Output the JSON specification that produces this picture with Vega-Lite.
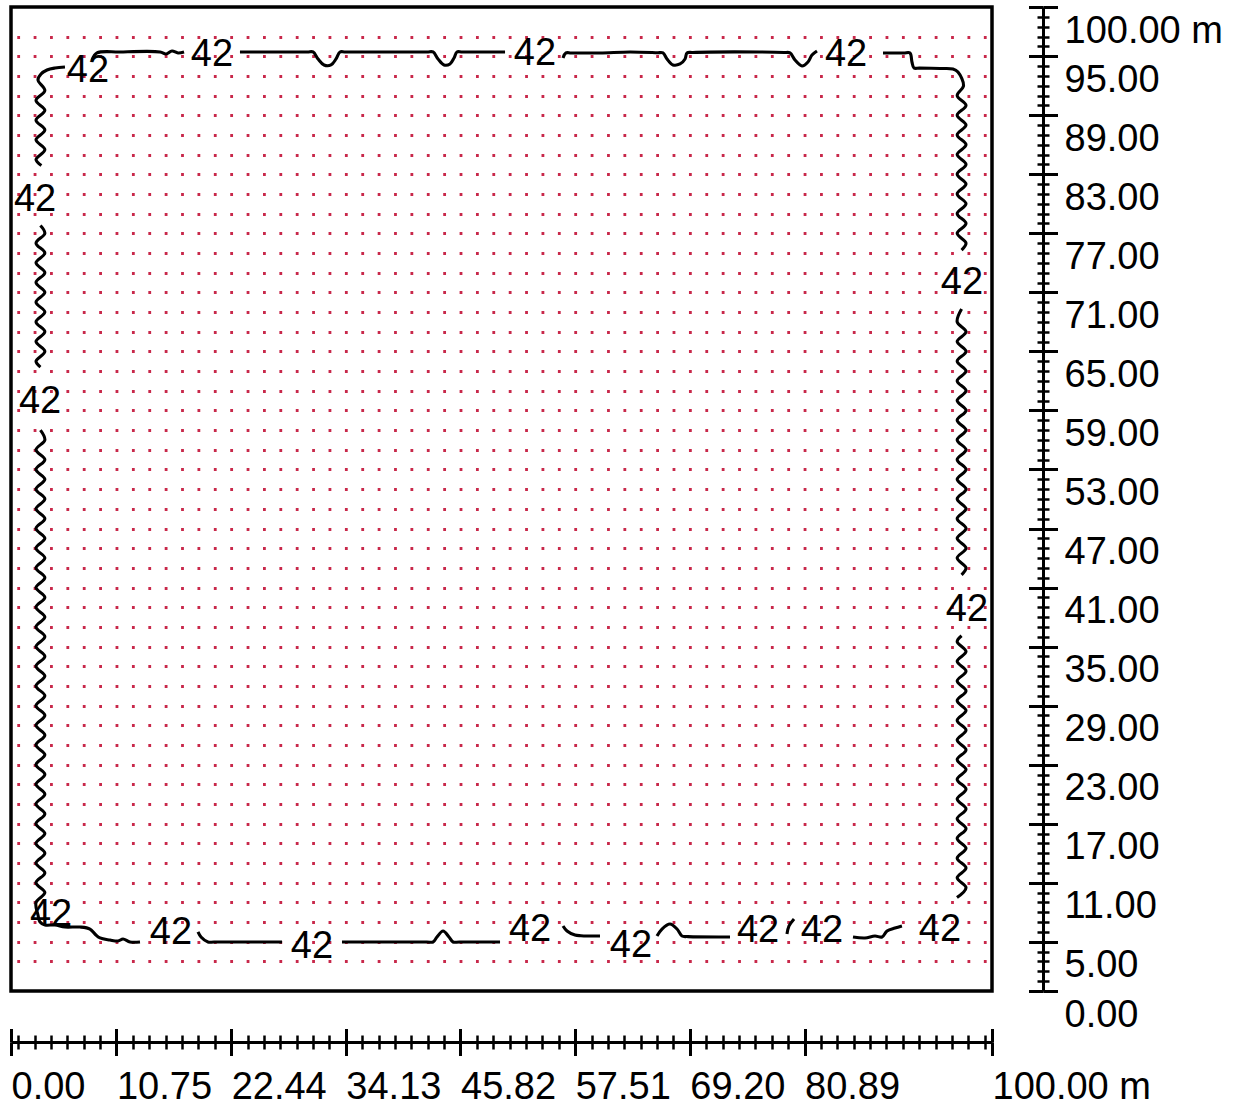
{
  "$schema": "https://vega.github.io/schema/vega-lite/v6.json",
  "width": 981,
  "height": 984,
  "autosize": {"type": "none"},
  "padding": {"left": 11, "top": 7, "right": 254, "bottom": 115},
  "background": "white",
  "config": {
    "view": {"stroke": "black", "strokeWidth": 3.5},
    "font": "Liberation Sans",
    "axis": {"grid": false, "title": null, "domainColor": "black", "tickColor": "black", "labelColor": "black", "labelFont": "Liberation Sans"}
  },
  "datasets": {
    "contour": [
      {"s": "L1", "i": 1, "x": 5.50, "y": 93.90}, {"s": "L1", "i": 2, "x": 4.49, "y": 93.80}, {"s": "L1", "i": 3, "x": 3.67, "y": 93.60}, {"s": "L1", "i": 4, "x": 3.06, "y": 93.19}, {"s": "L1", "i": 5, "x": 2.75, "y": 92.58},
      {"s": "L1", "i": 6, "x": 3.45, "y": 91.5}, {"s": "L1", "i": 7, "x": 2.55, "y": 90.5}, {"s": "L1", "i": 8, "x": 3.45, "y": 89.5}, {"s": "L1", "i": 9, "x": 2.55, "y": 88.5}, {"s": "L1", "i": 10, "x": 3.45, "y": 87.5}, {"s": "L1", "i": 11, "x": 2.55, "y": 86.5}, {"s": "L1", "i": 12, "x": 3.45, "y": 85.5}, {"s": "L1", "i": 13, "x": 2.55, "y": 84.5}, {"s": "L1", "i": 14, "x": 3.1, "y": 83.9},
      {"s": "L2", "i": 1, "x": 3.0, "y": 77.8}, {"s": "L2", "i": 2, "x": 3.45, "y": 77.0}, {"s": "L2", "i": 3, "x": 2.55, "y": 76.0}, {"s": "L2", "i": 4, "x": 3.45, "y": 75.0}, {"s": "L2", "i": 5, "x": 2.55, "y": 74.0}, {"s": "L2", "i": 6, "x": 3.45, "y": 73.0}, {"s": "L2", "i": 7, "x": 2.55, "y": 72.0}, {"s": "L2", "i": 8, "x": 3.45, "y": 71.0}, {"s": "L2", "i": 9, "x": 2.55, "y": 70.0}, {"s": "L2", "i": 10, "x": 3.45, "y": 69.0}, {"s": "L2", "i": 11, "x": 2.55, "y": 68.0}, {"s": "L2", "i": 12, "x": 3.45, "y": 67.0}, {"s": "L2", "i": 13, "x": 2.55, "y": 66.0}, {"s": "L2", "i": 14, "x": 3.45, "y": 65.0}, {"s": "L2", "i": 15, "x": 2.55, "y": 64.0}, {"s": "L2", "i": 16, "x": 3.0, "y": 63.4},
      {"s": "L3", "i": 1, "x": 3.0, "y": 57.0}, {"s": "L3", "i": 2, "x": 3.45, "y": 56}, {"s": "L3", "i": 3, "x": 2.55, "y": 55}, {"s": "L3", "i": 4, "x": 3.45, "y": 54}, {"s": "L3", "i": 5, "x": 2.55, "y": 53}, {"s": "L3", "i": 6, "x": 3.45, "y": 52}, {"s": "L3", "i": 7, "x": 2.55, "y": 51}, {"s": "L3", "i": 8, "x": 3.45, "y": 50}, {"s": "L3", "i": 9, "x": 2.55, "y": 49}, {"s": "L3", "i": 10, "x": 3.45, "y": 48}, {"s": "L3", "i": 11, "x": 2.55, "y": 47}, {"s": "L3", "i": 12, "x": 3.45, "y": 46}, {"s": "L3", "i": 13, "x": 2.55, "y": 45}, {"s": "L3", "i": 14, "x": 3.45, "y": 44}, {"s": "L3", "i": 15, "x": 2.55, "y": 43}, {"s": "L3", "i": 16, "x": 3.45, "y": 42}, {"s": "L3", "i": 17, "x": 2.55, "y": 41}, {"s": "L3", "i": 18, "x": 3.45, "y": 40}, {"s": "L3", "i": 19, "x": 2.55, "y": 39}, {"s": "L3", "i": 20, "x": 3.45, "y": 38}, {"s": "L3", "i": 21, "x": 2.55, "y": 37}, {"s": "L3", "i": 22, "x": 3.45, "y": 36}, {"s": "L3", "i": 23, "x": 2.55, "y": 35}, {"s": "L3", "i": 24, "x": 3.45, "y": 34}, {"s": "L3", "i": 25, "x": 2.55, "y": 33}, {"s": "L3", "i": 26, "x": 3.45, "y": 32}, {"s": "L3", "i": 27, "x": 2.55, "y": 31}, {"s": "L3", "i": 28, "x": 3.45, "y": 30}, {"s": "L3", "i": 29, "x": 2.55, "y": 29}, {"s": "L3", "i": 30, "x": 3.45, "y": 28}, {"s": "L3", "i": 31, "x": 2.55, "y": 27}, {"s": "L3", "i": 32, "x": 3.45, "y": 26}, {"s": "L3", "i": 33, "x": 2.55, "y": 25}, {"s": "L3", "i": 34, "x": 3.45, "y": 24}, {"s": "L3", "i": 35, "x": 2.55, "y": 23}, {"s": "L3", "i": 36, "x": 3.45, "y": 22}, {"s": "L3", "i": 37, "x": 2.55, "y": 21}, {"s": "L3", "i": 38, "x": 3.45, "y": 20}, {"s": "L3", "i": 39, "x": 2.55, "y": 19}, {"s": "L3", "i": 40, "x": 3.45, "y": 18}, {"s": "L3", "i": 41, "x": 2.55, "y": 17}, {"s": "L3", "i": 42, "x": 3.45, "y": 16}, {"s": "L3", "i": 43, "x": 2.55, "y": 15}, {"s": "L3", "i": 44, "x": 3.45, "y": 14}, {"s": "L3", "i": 45, "x": 2.55, "y": 13}, {"s": "L3", "i": 46, "x": 3.45, "y": 12}, {"s": "L3", "i": 47, "x": 2.55, "y": 11}, {"s": "L3", "i": 48, "x": 3.45, "y": 10}, {"s": "L3", "i": 49, "x": 2.55, "y": 9},
      {"s": "L3", "i": 50, "x": 2.75, "y": 7.72}, {"s": "L3", "i": 51, "x": 2.96, "y": 7.01}, {"s": "L3", "i": 52, "x": 3.47, "y": 6.71}, {"s": "L3", "i": 53, "x": 4.49, "y": 6.71}, {"s": "L3", "i": 54, "x": 5.50, "y": 6.50}, {"s": "L3", "i": 55, "x": 7.03, "y": 6.50}, {"s": "L3", "i": 56, "x": 8.05, "y": 6.30}, {"s": "L3", "i": 57, "x": 8.56, "y": 5.79}, {"s": "L3", "i": 58, "x": 9.07, "y": 5.39}, {"s": "L3", "i": 59, "x": 10.09, "y": 5.18}, {"s": "L3", "i": 60, "x": 10.91, "y": 5.08}, {"s": "L3", "i": 61, "x": 11.42, "y": 5.28}, {"s": "L3", "i": 62, "x": 12.13, "y": 4.98}, {"s": "L3", "i": 63, "x": 13.15, "y": 4.98},
      {"s": "B2", "i": 1, "x": 19.06, "y": 6.00}, {"s": "B2", "i": 2, "x": 19.37, "y": 5.49}, {"s": "B2", "i": 3, "x": 20.08, "y": 4.98}, {"s": "B2", "i": 4, "x": 20.7, "y": 4.98}, {"s": "B2", "i": 5, "x": 27.63, "y": 4.98},
      {"s": "B3", "i": 1, "x": 33.74, "y": 4.98}, {"s": "B3", "i": 2, "x": 42.4, "y": 4.98}, {"s": "B3", "i": 3, "x": 43.02, "y": 4.98}, {"s": "B3", "i": 4, "x": 43.42, "y": 5.49}, {"s": "B3", "i": 5, "x": 44.04, "y": 6.10}, {"s": "B3", "i": 6, "x": 44.65, "y": 5.49}, {"s": "B3", "i": 7, "x": 45.06, "y": 4.98}, {"s": "B3", "i": 8, "x": 45.7, "y": 4.98}, {"s": "B3", "i": 9, "x": 49.85, "y": 4.98},
      {"s": "B4", "i": 1, "x": 56.27, "y": 6.61}, {"s": "B4", "i": 2, "x": 56.68, "y": 6.10}, {"s": "B4", "i": 3, "x": 57.49, "y": 5.69}, {"s": "B4", "i": 4, "x": 58.1, "y": 5.62}, {"s": "B4", "i": 5, "x": 60.04, "y": 5.59},
      {"s": "B5", "i": 1, "x": 65.85, "y": 5.59}, {"s": "B5", "i": 2, "x": 66.36, "y": 6.30}, {"s": "B5", "i": 3, "x": 67.18, "y": 6.81}, {"s": "B5", "i": 4, "x": 67.89, "y": 6.30}, {"s": "B5", "i": 5, "x": 68.40, "y": 5.59}, {"s": "B5", "i": 6, "x": 69.0, "y": 5.53}, {"s": "B5", "i": 7, "x": 73.29, "y": 5.49},
      {"s": "B6", "i": 1, "x": 79.10, "y": 5.79}, {"s": "B6", "i": 2, "x": 79.31, "y": 6.61}, {"s": "B6", "i": 3, "x": 79.82, "y": 7.32},
      {"s": "B7", "i": 1, "x": 85.83, "y": 5.49}, {"s": "B7", "i": 2, "x": 87.05, "y": 5.39}, {"s": "B7", "i": 3, "x": 88.07, "y": 5.59}, {"s": "B7", "i": 4, "x": 88.79, "y": 5.49}, {"s": "B7", "i": 5, "x": 89.30, "y": 6.10}, {"s": "B7", "i": 6, "x": 90.11, "y": 6.40}, {"s": "B7", "i": 7, "x": 90.82, "y": 6.61},
      {"s": "R1", "i": 1, "x": 96.43, "y": 9.5}, {"s": "R1", "i": 2, "x": 97.35, "y": 10.5}, {"s": "R1", "i": 3, "x": 96.45, "y": 11.5}, {"s": "R1", "i": 4, "x": 97.35, "y": 12.5}, {"s": "R1", "i": 5, "x": 96.45, "y": 13.5}, {"s": "R1", "i": 6, "x": 97.35, "y": 14.5}, {"s": "R1", "i": 7, "x": 96.45, "y": 15.5}, {"s": "R1", "i": 8, "x": 97.35, "y": 16.5}, {"s": "R1", "i": 9, "x": 96.45, "y": 17.5}, {"s": "R1", "i": 10, "x": 97.35, "y": 18.5}, {"s": "R1", "i": 11, "x": 96.45, "y": 19.5}, {"s": "R1", "i": 12, "x": 97.35, "y": 20.5}, {"s": "R1", "i": 13, "x": 96.45, "y": 21.5}, {"s": "R1", "i": 14, "x": 97.35, "y": 22.5}, {"s": "R1", "i": 15, "x": 96.45, "y": 23.5}, {"s": "R1", "i": 16, "x": 97.35, "y": 24.5}, {"s": "R1", "i": 17, "x": 96.45, "y": 25.5}, {"s": "R1", "i": 18, "x": 97.35, "y": 26.5}, {"s": "R1", "i": 19, "x": 96.45, "y": 27.5}, {"s": "R1", "i": 20, "x": 97.35, "y": 28.5}, {"s": "R1", "i": 21, "x": 96.45, "y": 29.5}, {"s": "R1", "i": 22, "x": 97.35, "y": 30.5}, {"s": "R1", "i": 23, "x": 96.45, "y": 31.5}, {"s": "R1", "i": 24, "x": 97.35, "y": 32.5}, {"s": "R1", "i": 25, "x": 96.45, "y": 33.5}, {"s": "R1", "i": 26, "x": 97.35, "y": 34.5}, {"s": "R1", "i": 27, "x": 96.45, "y": 35.5}, {"s": "R1", "i": 28, "x": 96.9, "y": 36.1},
      {"s": "R2", "i": 1, "x": 96.9, "y": 42.3}, {"s": "R2", "i": 2, "x": 97.35, "y": 43}, {"s": "R2", "i": 3, "x": 96.45, "y": 44}, {"s": "R2", "i": 4, "x": 97.35, "y": 45}, {"s": "R2", "i": 5, "x": 96.45, "y": 46}, {"s": "R2", "i": 6, "x": 97.35, "y": 47}, {"s": "R2", "i": 7, "x": 96.45, "y": 48}, {"s": "R2", "i": 8, "x": 97.35, "y": 49}, {"s": "R2", "i": 9, "x": 96.45, "y": 50}, {"s": "R2", "i": 10, "x": 97.35, "y": 51}, {"s": "R2", "i": 11, "x": 96.45, "y": 52}, {"s": "R2", "i": 12, "x": 97.35, "y": 53}, {"s": "R2", "i": 13, "x": 96.45, "y": 54}, {"s": "R2", "i": 14, "x": 97.35, "y": 55}, {"s": "R2", "i": 15, "x": 96.45, "y": 56}, {"s": "R2", "i": 16, "x": 97.35, "y": 57}, {"s": "R2", "i": 17, "x": 96.45, "y": 58}, {"s": "R2", "i": 18, "x": 97.35, "y": 59}, {"s": "R2", "i": 19, "x": 96.45, "y": 60}, {"s": "R2", "i": 20, "x": 97.35, "y": 61}, {"s": "R2", "i": 21, "x": 96.45, "y": 62}, {"s": "R2", "i": 22, "x": 97.35, "y": 63}, {"s": "R2", "i": 23, "x": 96.45, "y": 64}, {"s": "R2", "i": 24, "x": 97.35, "y": 65}, {"s": "R2", "i": 25, "x": 96.45, "y": 66}, {"s": "R2", "i": 26, "x": 97.35, "y": 67}, {"s": "R2", "i": 27, "x": 96.45, "y": 68}, {"s": "R2", "i": 28, "x": 96.9, "y": 69.3},
      {"s": "R3", "i": 1, "x": 96.9, "y": 75.3}, {"s": "R3", "i": 2, "x": 97.35, "y": 76}, {"s": "R3", "i": 3, "x": 96.45, "y": 77}, {"s": "R3", "i": 4, "x": 97.35, "y": 78}, {"s": "R3", "i": 5, "x": 96.45, "y": 79}, {"s": "R3", "i": 6, "x": 97.35, "y": 80}, {"s": "R3", "i": 7, "x": 96.45, "y": 81}, {"s": "R3", "i": 8, "x": 97.35, "y": 82}, {"s": "R3", "i": 9, "x": 96.45, "y": 83}, {"s": "R3", "i": 10, "x": 97.35, "y": 84}, {"s": "R3", "i": 11, "x": 96.45, "y": 85}, {"s": "R3", "i": 12, "x": 97.35, "y": 86}, {"s": "R3", "i": 13, "x": 96.45, "y": 87}, {"s": "R3", "i": 14, "x": 97.35, "y": 88}, {"s": "R3", "i": 15, "x": 96.45, "y": 89}, {"s": "R3", "i": 16, "x": 97.35, "y": 90}, {"s": "R3", "i": 17, "x": 96.45, "y": 91}, {"s": "R3", "i": 18, "x": 97.1, "y": 92},
      {"s": "R3", "i": 19, "x": 96.53, "y": 93.39}, {"s": "R3", "i": 20, "x": 96.02, "y": 93.70}, {"s": "R3", "i": 21, "x": 94.70, "y": 93.75}, {"s": "R3", "i": 22, "x": 92.6, "y": 93.79}, {"s": "R3", "i": 23, "x": 92.05, "y": 93.80}, {"s": "R3", "i": 24, "x": 91.84, "y": 94.41}, {"s": "R3", "i": 25, "x": 91.64, "y": 95.33}, {"s": "R3", "i": 26, "x": 91.0, "y": 95.33}, {"s": "R3", "i": 27, "x": 88.89, "y": 95.33},
      {"s": "T0", "i": 1, "x": 8.26, "y": 94.61}, {"s": "T0", "i": 2, "x": 8.77, "y": 95.33}, {"s": "T0", "i": 3, "x": 11.11, "y": 95.43}, {"s": "T0", "i": 4, "x": 15.19, "y": 95.43}, {"s": "T0", "i": 5, "x": 15.80, "y": 95.22}, {"s": "T0", "i": 6, "x": 16.41, "y": 95.53}, {"s": "T0", "i": 7, "x": 17.02, "y": 95.33}, {"s": "T0", "i": 8, "x": 17.64, "y": 95.43},
      {"s": "T1", "i": 1, "x": 23.34, "y": 95.43}, {"s": "T1", "i": 2, "x": 30.2, "y": 95.43}, {"s": "T1", "i": 3, "x": 30.79, "y": 95.43}, {"s": "T1", "i": 4, "x": 31.30, "y": 94.72}, {"s": "T1", "i": 5, "x": 31.91, "y": 94.11}, {"s": "T1", "i": 6, "x": 32.62, "y": 94.11}, {"s": "T1", "i": 7, "x": 33.13, "y": 94.72}, {"s": "T1", "i": 8, "x": 33.54, "y": 95.43}, {"s": "T1", "i": 9, "x": 34.1, "y": 95.43}, {"s": "T1", "i": 10, "x": 42.4, "y": 95.43}, {"s": "T1", "i": 11, "x": 43.02, "y": 95.43}, {"s": "T1", "i": 12, "x": 43.53, "y": 94.72}, {"s": "T1", "i": 13, "x": 44.14, "y": 94.11}, {"s": "T1", "i": 14, "x": 44.75, "y": 94.21}, {"s": "T1", "i": 15, "x": 45.16, "y": 94.82}, {"s": "T1", "i": 16, "x": 45.46, "y": 95.43}, {"s": "T1", "i": 17, "x": 46.0, "y": 95.43}, {"s": "T1", "i": 18, "x": 50.36, "y": 95.43},
      {"s": "T2", "i": 1, "x": 56.27, "y": 94.82}, {"s": "T2", "i": 2, "x": 56.57, "y": 95.33}, {"s": "T2", "i": 3, "x": 57.1, "y": 95.33}, {"s": "T2", "i": 4, "x": 60.04, "y": 95.33}, {"s": "T2", "i": 5, "x": 63.10, "y": 95.43}, {"s": "T2", "i": 6, "x": 65.9, "y": 95.35}, {"s": "T2", "i": 7, "x": 66.46, "y": 95.33}, {"s": "T2", "i": 8, "x": 66.87, "y": 94.72}, {"s": "T2", "i": 9, "x": 67.48, "y": 94.11}, {"s": "T2", "i": 10, "x": 68.20, "y": 94.21}, {"s": "T2", "i": 11, "x": 68.71, "y": 94.72}, {"s": "T2", "i": 12, "x": 68.91, "y": 95.33}, {"s": "T2", "i": 13, "x": 69.5, "y": 95.38}, {"s": "T2", "i": 14, "x": 76.35, "y": 95.43}, {"s": "T2", "i": 15, "x": 78.8, "y": 95.38}, {"s": "T2", "i": 16, "x": 79.41, "y": 95.33}, {"s": "T2", "i": 17, "x": 79.92, "y": 94.61}, {"s": "T2", "i": 18, "x": 80.63, "y": 94.00}, {"s": "T2", "i": 19, "x": 81.24, "y": 94.41}, {"s": "T2", "i": 20, "x": 81.65, "y": 95.12}, {"s": "T2", "i": 21, "x": 82.16, "y": 95.53}
    ],
    "labels": [
      {"t": "42", "x": 7.85, "y": 93.70}, {"t": "42", "x": 20.49, "y": 95.33}, {"t": "42", "x": 53.41, "y": 95.43}, {"t": "42", "x": 85.12, "y": 95.33},
      {"t": "42", "x": 2.45, "y": 80.59}, {"t": "42", "x": 2.96, "y": 60.06}, {"t": "42", "x": 4.08, "y": 7.93},
      {"t": "42", "x": 16.31, "y": 6.10}, {"t": "42", "x": 30.68, "y": 4.67}, {"t": "42", "x": 52.91, "y": 6.40}, {"t": "42", "x": 63.20, "y": 4.78}, {"t": "42", "x": 76.15, "y": 6.30}, {"t": "42", "x": 82.67, "y": 6.30}, {"t": "42", "x": 94.70, "y": 6.40},
      {"t": "42", "x": 96.94, "y": 72.15}, {"t": "42", "x": 97.45, "y": 38.92}
    ]
  },
  "layer": [
    {
      "data": {"name": "labels"},
      "mark": {"type": "point", "opacity": 0},
      "encoding": {
        "x": {"field": "x", "type": "quantitative", "scale": {"domain": [0, 100], "nice": false, "zero": false}, "axis": null},
        "y": {"field": "y", "type": "quantitative", "scale": {"domain": [0, 100], "nice": false, "zero": false},
          "axis": {"orient": "left", "values": [3, 5, 7, 9, 11, 13, 15, 17, 19, 21, 23, 25, 27, 29, 31, 33, 35, 37, 39, 41, 43, 45, 47, 49, 51, 53, 55, 57, 59, 61, 63, 65, 67, 69, 71, 73, 75, 77, 79, 81, 83, 85, 87, 89, 91, 93, 95, 97],
            "grid": true, "gridColor": "#c8284a", "gridWidth": 2.8, "gridDash": [2.8, 13.583], "gridDashOffset": 10.62, "ticks": false, "labels": false, "domain": false, "title": null}}
      }
    },
    {
      "data": {"name": "contour"},
      "mark": {"type": "line", "interpolate": "catmull-rom", "color": "black", "strokeWidth": 3.1},
      "encoding": {
        "x": {"field": "x", "type": "quantitative", "scale": {"domain": [0, 100], "nice": false, "zero": false},
          "axis": {"orient": "bottom", "offset": 51, "values": [0, 10.75, 22.44, 34.13, 45.82, 57.51, 69.2, 80.89, 100],
            "domain": true, "domainWidth": 3, "ticks": true, "tickWidth": 3, "tickSize": 13.5,
            "labels": true, "labelFontSize": 38, "labelAlign": "left", "labelBaseline": "top", "labelPadding": 12.5,
            "labelOverlap": false, "labelFlush": false, "labelBound": false,
            "labelExpr": "datum.value == 100 ? '100.00 m' : format(datum.value, '.2f')",
            "grid": false, "title": null}},
        "y": {"field": "y", "type": "quantitative", "scale": {"domain": [0, 100], "nice": false, "zero": false},
          "axis": {"orient": "right", "offset": 51, "values": [0, 5, 11, 17, 23, 29, 35, 41, 47, 53, 59, 65, 71, 77, 83, 89, 95, 100],
            "domain": true, "domainWidth": 3, "ticks": true, "tickWidth": 3, "tickSize": 14.5,
            "labels": true, "labelFontSize": 38, "labelAlign": "left", "labelBaseline": "middle", "labelPadding": 6.5, "labelOffset": 24,
            "labelOverlap": false, "labelFlush": false, "labelBound": false,
            "labelExpr": "datum.value == 100 ? '100.00 m' : format(datum.value, '.2f')",
            "grid": false, "title": null}},
        "detail": {"field": "s"},
        "order": {"field": "i", "type": "quantitative"}
      }
    },
    {
      "data": {"name": "labels"},
      "mark": {"type": "text", "font": "Liberation Sans", "fontSize": 38, "color": "black", "align": "center", "baseline": "middle", "dy": 2},
      "encoding": {
        "text": {"field": "t"},
        "x": {"field": "x", "type": "quantitative", "scale": {"domain": [0, 100], "nice": false, "zero": false},
          "axis": {"orient": "bottom", "offset": 51, "values": [0.73, 2.4, 4.07, 5.74, 7.41, 9.08, 12.42, 14.09, 15.76, 17.43, 19.1, 20.77, 24.11, 25.78, 27.45, 29.12, 30.79, 32.46, 35.8, 37.47, 39.14, 40.81, 42.48, 44.15, 47.49, 49.16, 50.83, 52.5, 54.17, 55.84, 59.18, 60.85, 62.52, 64.19, 65.86, 67.53, 70.87, 72.54, 74.21, 75.88, 77.55, 79.22, 82.56, 84.23, 85.9, 87.57, 89.24, 90.91, 92.58, 94.25, 95.92, 97.59, 99.26],
            "domain": false, "labels": false, "ticks": true, "tickWidth": 2.5, "tickSize": 7, "grid": false, "title": null}},
        "y": {"field": "y", "type": "quantitative", "scale": {"domain": [0, 100], "nice": false, "zero": false},
          "axis": {"orient": "right", "offset": 51, "values": [1, 2, 3, 4, 6, 7, 8, 9, 10, 12, 13, 14, 15, 16, 18, 19, 20, 21, 22, 24, 25, 26, 27, 28, 30, 31, 32, 33, 34, 36, 37, 38, 39, 40, 42, 43, 44, 45, 46, 48, 49, 50, 51, 52, 54, 55, 56, 57, 58, 60, 61, 62, 63, 64, 66, 67, 68, 69, 70, 72, 73, 74, 75, 76, 78, 79, 80, 81, 82, 84, 85, 86, 87, 88, 90, 91, 92, 93, 94, 96, 97, 98, 99],
            "domain": false, "labels": false, "ticks": true, "tickWidth": 2.5, "tickSize": 6, "grid": false, "title": null}}
      }
    },
    {
      "data": {"name": "labels"},
      "mark": {"type": "point", "opacity": 0},
      "encoding": {
        "x": {"field": "x", "type": "quantitative", "scale": {"domain": [0, 100], "nice": false, "zero": false},
          "axis": {"orient": "bottom", "offset": 37.5, "values": [0, 10.75, 22.44, 34.13, 45.82, 57.51, 69.2, 80.89, 100],
            "domain": false, "labels": false, "ticks": true, "tickWidth": 3, "tickSize": 13.5, "grid": false, "title": null}},
        "y": {"field": "y", "type": "quantitative", "scale": {"domain": [0, 100], "nice": false, "zero": false},
          "axis": {"orient": "right", "offset": 36.5, "values": [0, 5, 11, 17, 23, 29, 35, 41, 47, 53, 59, 65, 71, 77, 83, 89, 95, 100],
            "domain": false, "labels": false, "ticks": true, "tickWidth": 3, "tickSize": 14.5, "grid": false, "title": null}}
      }
    },
    {
      "data": {"name": "labels"},
      "mark": {"type": "point", "opacity": 0},
      "encoding": {
        "x": {"field": "x", "type": "quantitative", "scale": {"domain": [0, 100], "nice": false, "zero": false},
          "axis": {"orient": "bottom", "offset": 44, "values": [0.73, 2.4, 4.07, 5.74, 7.41, 9.08, 12.42, 14.09, 15.76, 17.43, 19.1, 20.77, 24.11, 25.78, 27.45, 29.12, 30.79, 32.46, 35.8, 37.47, 39.14, 40.81, 42.48, 44.15, 47.49, 49.16, 50.83, 52.5, 54.17, 55.84, 59.18, 60.85, 62.52, 64.19, 65.86, 67.53, 70.87, 72.54, 74.21, 75.88, 77.55, 79.22, 82.56, 84.23, 85.9, 87.57, 89.24, 90.91, 92.58, 94.25, 95.92, 97.59, 99.26],
            "domain": false, "labels": false, "ticks": true, "tickWidth": 2.5, "tickSize": 7, "grid": false, "title": null}},
        "y": {"field": "y", "type": "quantitative", "scale": {"domain": [0, 100], "nice": false, "zero": false},
          "axis": {"orient": "right", "offset": 45, "values": [1, 2, 3, 4, 6, 7, 8, 9, 10, 12, 13, 14, 15, 16, 18, 19, 20, 21, 22, 24, 25, 26, 27, 28, 30, 31, 32, 33, 34, 36, 37, 38, 39, 40, 42, 43, 44, 45, 46, 48, 49, 50, 51, 52, 54, 55, 56, 57, 58, 60, 61, 62, 63, 64, 66, 67, 68, 69, 70, 72, 73, 74, 75, 76, 78, 79, 80, 81, 82, 84, 85, 86, 87, 88, 90, 91, 92, 93, 94, 96, 97, 98, 99],
            "domain": false, "labels": false, "ticks": true, "tickWidth": 2.5, "tickSize": 6, "grid": false, "title": null}}
      }
    }
  ],
  "resolve": {"axis": {"x": "independent", "y": "independent"}}
}
